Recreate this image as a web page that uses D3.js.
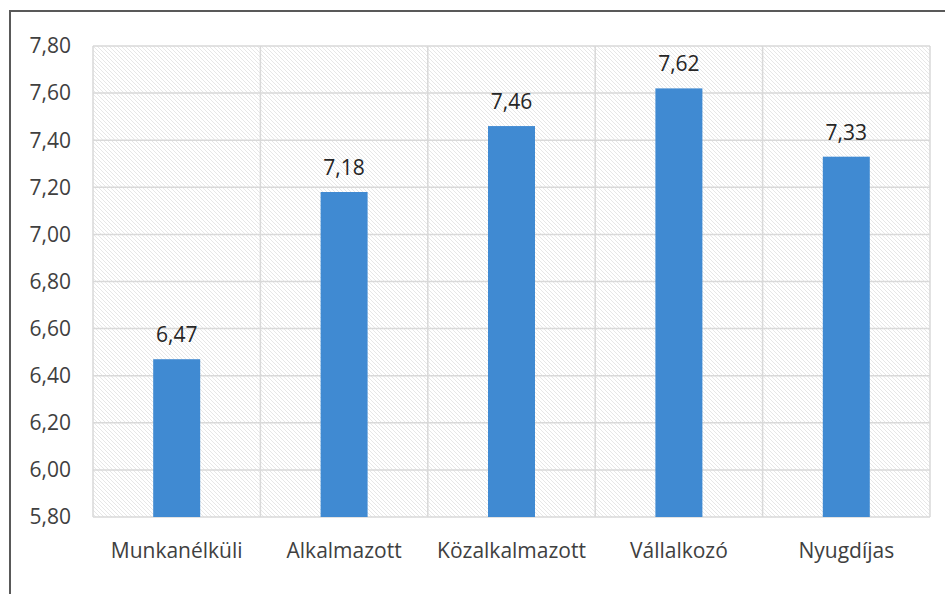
<!DOCTYPE html>
<html>
<head>
<meta charset="utf-8">
<script src="https://cdn.jsdelivr.net/npm/d3@7"></script>
<style>
  body { margin: 0; background: #fff; }
  svg text { font-family: "Open Sans", Lato, sans-serif; fill: #404040; }
</style>
</head>
<body>
<div id="chart"></div>
<script>
var categories = ["Munkanélküli", "Alkalmazott", "Közalkalmazott", "Vállalkozó", "Nyugdíjas"];
var values = [6.47, 7.18, 7.46, 7.62, 7.33];
var yTicks = [5.8, 6.0, 6.2, 6.4, 6.6, 6.8, 7.0, 7.2, 7.4, 7.6, 7.8];

var W = 945, H = 594;
var margin = { top: 46, right: 15, bottom: 77, left: 93 },
    width = W - margin.left - margin.right,
    height = H - margin.top - margin.bottom;

var svg = d3.select("#chart").append("svg")
    .attr("width", W)
    .attr("height", H);

// hatch pattern for plot background
var defs = svg.append("defs");
var pat = defs.append("pattern")
    .attr("id", "hatch")
    .attr("patternUnits", "userSpaceOnUse")
    .attr("width", 4)
    .attr("height", 4);
pat.append("rect").attr("width", 4).attr("height", 4).attr("fill", "#ffffff");
pat.append("path")
    .attr("d", "M-1,-1 L5,5 M-1,3 L1,5 M3,-1 L5,1")
    .attr("stroke", "#e4e4e4")
    .attr("stroke-width", 0.9);

// outer frame
svg.append("rect")
    .attr("x", 10).attr("y", 11)
    .attr("width", W).attr("height", H)
    .attr("fill", "none")
    .attr("stroke", "#595959")
    .attr("stroke-width", 2);

var g = svg.append("g")
    .attr("transform", "translate(" + margin.left + "," + margin.top + ")");

var x = d3.scaleBand()
    .domain(categories)
    .range([0, width])
    .paddingInner(0)
    .paddingOuter(0);

var y = d3.scaleLinear()
    .domain([5.8, 7.8])
    .range([height, 0]);

var fmt = function(v) { return d3.format(".2f")(v).replace(".", ","); };

g.append("rect")
    .attr("width", width)
    .attr("height", height)
    .attr("fill", "url(#hatch)");

// horizontal gridlines
g.append("g")
    .selectAll("line")
    .data(yTicks)
    .enter().append("line")
    .attr("x1", 0).attr("x2", width)
    .attr("y1", function(d) { return y(d); })
    .attr("y2", function(d) { return y(d); })
    .attr("stroke", "#d9d9d9")
    .attr("stroke-width", 1.5);

// vertical gridlines at category boundaries
var bounds = categories.map(function(c) { return x(c); }).concat([width]);
g.append("g")
    .selectAll("line")
    .data(bounds)
    .enter().append("line")
    .attr("x1", function(d) { return d; })
    .attr("x2", function(d) { return d; })
    .attr("y1", 0).attr("y2", height)
    .attr("stroke", "#d9d9d9")
    .attr("stroke-width", 1.5);

// y tick labels
g.append("g")
    .selectAll("text")
    .data(yTicks)
    .enter().append("text")
    .attr("x", -22)
    .attr("y", function(d) { return y(d); })
    .attr("dy", "0.35em")
    .attr("text-anchor", "end")
    .style("font-size", "21px")
    .text(fmt);

// bars
var barW = 47;
g.selectAll(".bar")
    .data(values)
    .enter().append("rect")
    .attr("class", "bar")
    .attr("x", function(d, i) { return x(categories[i]) + x.bandwidth() / 2 - barW / 2; })
    .attr("y", function(d) { return y(d); })
    .attr("width", barW)
    .attr("height", function(d) { return height - y(d); })
    .attr("fill", "#408ad2");

// value labels
g.selectAll(".val")
    .data(values)
    .enter().append("text")
    .attr("class", "val")
    .attr("x", function(d, i) { return x(categories[i]) + x.bandwidth() / 2; })
    .attr("y", function(d) { return y(d) - 17; })
    .attr("text-anchor", "middle")
    .style("font-size", "21px")
    .style("fill", "#262626")
    .text(fmt);

// category labels
g.selectAll(".cat")
    .data(categories)
    .enter().append("text")
    .attr("class", "cat")
    .attr("x", function(d) { return x(d) + x.bandwidth() / 2; })
    .attr("y", height + 41)
    .attr("text-anchor", "middle")
    .style("font-size", "21px")
    .text(function(d) { return d; });
</script>
</body>
</html>
